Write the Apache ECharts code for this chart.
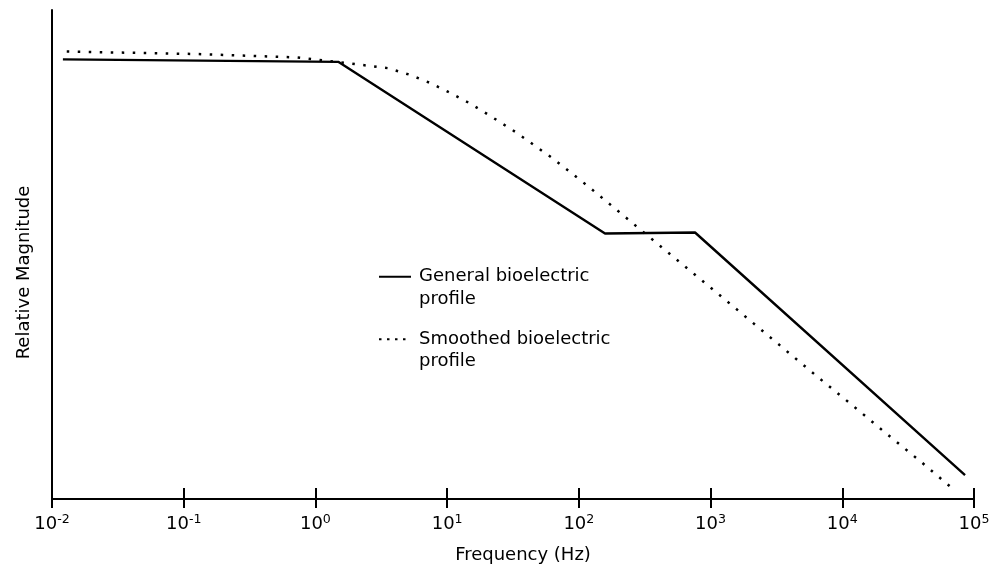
<!DOCTYPE html>
<html>
<head>
<meta charset="utf-8">
<script src="https://cdn.jsdelivr.net/npm/echarts@6/dist/echarts.min.js"></script>
<style>
html,body{margin:0;padding:0;background:#fff;}
#chart{width:995px;height:569px;}
</style>
</head>
<body>
<div id="chart"></div>
<script>
// Data
var seriesNames = ['General bioelectric profile', 'Smoothed bioelectric profile'];
var legendLabels = ['General bioelectric\nprofile', 'Smoothed bioelectric\nprofile'];
var xAxisTitle = 'Frequency (Hz)';
var yAxisTitle = 'Relative Magnitude';

var solidFreq = [0.0121, 1.49, 158, 762, 85500];
var solidMag  = [89.9, 89.4, 54.3, 54.5, 4.9];

var smoothFreq = [0.01294, 0.1256, 0.721, 1.68, 3.56, 5.14, 7.41, 10.5, 14.9, 20.8, 33.7, 63.7, 117, 213, 335, 604, 1102, 1995, 3614, 6546, 12020, 21780, 39630, 71780];
var smoothMag  = [91.5, 91.0, 90.3, 89.2, 88.1, 86.8, 85.1, 83.1, 80.9, 78.5, 74.9, 69.6, 64.0, 58.2, 53.8, 48.1, 42.3, 36.5, 30.7, 24.9, 19.1, 13.3, 7.6, 1.7];

var xMin = 0.01, xMax = 100000;

function pairs(xs, ys) {
  return xs.map(function (x, i) { return [x, ys[i]]; });
}

var FONT = 'DejaVu Sans';
var chart = echarts.init(document.getElementById('chart'), null, {renderer: 'canvas'});

var baseX = {
  type: 'log',
  logBase: 10,
  min: xMin,
  max: xMax,
  interval: 1,
  gridIndex: 0,
  position: 'bottom',
  offset: 0,
  splitLine: {show: false},
  minorTick: {show: false}
};

chart.setOption({
  animation: false,
  backgroundColor: '#ffffff',
  textStyle: {fontFamily: FONT},
  grid: {left: 52, right: 21, top: 10, bottom: 70, containLabel: false},
  legend: {
    orient: 'vertical',
    left: 378,
    top: 243,
    padding: 0,
    itemGap: -5,
    itemWidth: 32,
    itemHeight: 14,
    data: [
      {name: seriesNames[0]},
      {name: seriesNames[1], lineStyle: {type: [2.5, 5.5]}}
    ],
    formatter: function (name) {
      return '\n' + legendLabels[seriesNames.indexOf(name)];
    },
    itemStyle: {color: 'rgba(0,0,0,0)', borderWidth: 0, opacity: 0},
    textStyle: {fontFamily: FONT, fontSize: 18, color: '#000', lineHeight: 22.5, padding: [0, 0, 0, 3]}
  },
  xAxis: [
    Object.assign({}, baseX, {
      name: xAxisTitle,
      nameLocation: 'middle',
      nameGap: 47,
      nameTextStyle: {fontFamily: FONT, fontSize: 18, color: '#000', padding: [0, 0, 0, 20]},
      axisLine: {show: true, lineStyle: {color: '#000', width: 2}},
      axisTick: {show: true, inside: false, length: 9, lineStyle: {color: '#000', width: 2}},
      axisLabel: {
        show: true,
        margin: 14,
        formatter: function (v) {
          var e = Math.round(Math.log10(v));
          return '{b|10}{s|' + e + '}';
        },
        rich: {
          b: {fontFamily: FONT, fontSize: 18, lineHeight: 22, color: '#000', verticalAlign: 'middle'},
          s: {fontFamily: FONT, fontSize: 12.6, lineHeight: 13, color: '#000', verticalAlign: 'top'}
        }
      }
    }),
    Object.assign({}, baseX, {
      axisLine: {show: false},
      axisTick: {show: true, inside: true, length: 11, lineStyle: {color: '#000', width: 2}},
      axisLabel: {show: false}
    })
  ],
  yAxis: {
    type: 'value',
    min: 0,
    max: 100,
    name: yAxisTitle,
    nameLocation: 'middle',
    nameGap: 19,
    nameRotate: 90,
    nameTextStyle: {fontFamily: FONT, fontSize: 18, color: '#000', padding: [0, 36, 0, 0]},
    axisLine: {show: true, lineStyle: {color: '#000', width: 2}},
    axisTick: {show: false},
    axisLabel: {show: false},
    splitLine: {show: false}
  },
  series: [
    {
      name: seriesNames[0],
      type: 'line',
      xAxisIndex: 0,
      symbol: 'none',
      data: pairs(solidFreq, solidMag),
      lineStyle: {color: '#000', width: 2.4, type: 'solid'},
      itemStyle: {color: '#000'}
    },
    {
      name: seriesNames[1],
      type: 'line',
      xAxisIndex: 0,
      symbol: 'none',
      smooth: false,
      data: pairs(smoothFreq, smoothMag),
      lineStyle: {color: '#000', width: 2.5, type: [2.5, 8.5]},
      itemStyle: {color: '#000'}
    }
  ]
});
</script>
</body>
</html>
